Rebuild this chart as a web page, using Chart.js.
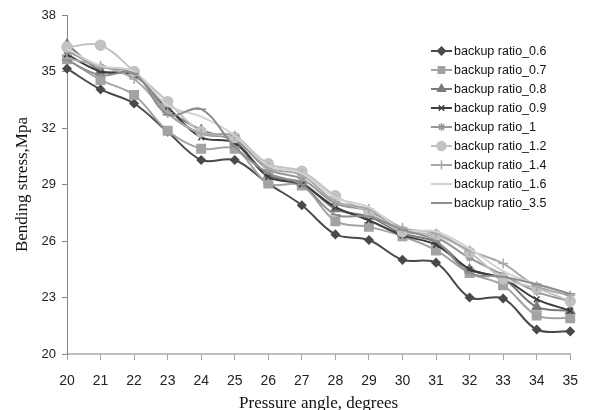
<!DOCTYPE html>
<html>
<head>
<meta charset="utf-8">
<script src="https://cdn.jsdelivr.net/npm/chart.js@4/dist/chart.umd.min.js"></script>
<style>
  html, body { margin: 0; padding: 0; background: #ffffff; }
  #wrap { width: 591px; height: 410px; position: relative; }
</style>
</head>
<body>
<div id="wrap"><canvas id="c" width="591" height="410"></canvas></div>
<script>
// Pressure angle (degrees) on the x axis
const angles = ['20','21','22','23','24','25','26','27','28','29','30','31','32','33','34','35'];

// Bending stress (MPa) for each backup ratio
const ratio06 = [35.15, 34.05, 33.3, 31.8, 30.3, 30.3, 29.05, 27.9, 26.35, 26.05, 25.0, 24.85, 23.0, 22.95, 21.3, 21.2];
const ratio07 = [35.65, 34.55, 33.75, 31.85, 30.9, 30.9, 29.05, 28.95, 27.05, 26.75, 26.25, 25.5, 24.3, 23.65, 22.05, 21.9];
const ratio08 = [36.45, 35.05, 34.85, 33.0, 31.9, 31.3, 29.5, 29.1, 27.7, 27.3, 26.4, 25.95, 24.5, 24.0, 22.5, 22.3];
const ratio09 = [35.9, 35.0, 34.8, 33.1, 31.5, 31.2, 29.4, 29.0, 27.8, 27.1, 26.3, 25.8, 24.5, 24.0, 22.9, 22.3];
const ratio10 = [36.1, 35.25, 34.9, 32.8, 31.7, 31.4, 29.8, 29.3, 28.0, 27.6, 26.6, 26.2, 25.1, 24.2, 23.3, 22.8];
const ratio12 = [36.3, 36.4, 35.0, 33.4, 31.8, 31.5, 30.1, 29.7, 28.4, 27.5, 26.5, 26.3, 25.4, 24.0, 23.5, 22.8];
const ratio14 = [35.7, 35.3, 34.6, 32.8, 31.7, 31.6, 29.9, 29.5, 28.1, 27.7, 26.7, 26.4, 25.5, 24.8, 23.6, 23.1];
const ratio16 = [36.2, 35.3, 35.0, 33.2, 32.6, 31.6, 30.0, 29.6, 28.3, 27.8, 26.6, 26.5, 25.6, 24.4, 23.7, 23.2];
const ratio35 = [35.6, 34.8, 34.9, 32.7, 33.0, 31.0, 29.6, 29.0, 27.4, 27.3, 26.6, 26.0, 24.3, 24.1, 23.7, 23.2];

const stressTicks = [20, 23, 26, 29, 32, 35, 38];

const seriesNames = ['backup ratio_0.6','backup ratio_0.7','backup ratio_0.8','backup ratio_0.9','backup ratio_1',
                     'backup ratio_1.2','backup ratio_1.4','backup ratio_1.6','backup ratio_3.5'];
const seriesData = [ratio06, ratio07, ratio08, ratio09, ratio10, ratio12, ratio14, ratio16, ratio35];
const seriesColors = ['#4a4a4a','#a3a3a3','#7a7a7a','#3c3c3c','#979797','#c2c2c2','#a8a8a8','#d2d2d2','#8e8e8e'];
const seriesMarkers = ['rectRot','rect','triangle','crossRot','star','circle','cross',false,'line'];
const markerSizes = [4, 6, 5, 4, 4, 5, 5, 0, 5];

const datasets = seriesData.map((d, i) => ({
  label: seriesNames[i],
  data: d,
  borderColor: seriesColors[i],
  backgroundColor: seriesColors[i],
  pointBackgroundColor: seriesColors[i],
  pointBorderColor: seriesColors[i],
  pointStyle: seriesMarkers[i],
  pointRadius: markerSizes[i],
  pointBorderWidth: 1.5,
  borderWidth: 2,
  tension: 0.35,
  fill: false,
  order: seriesData.length - i
}));

// Legend drawn as a column overlapping the upper right of the plot
const sideLegend = {
  id: 'sideLegend',
  afterDraw(chart) {
    const ctx = chart.ctx;
    ctx.save();
    chart.data.datasets.forEach((ds, i) => {
      const y = 51 + i * 19;
      ctx.strokeStyle = ds.borderColor;
      ctx.lineWidth = 2;
      ctx.beginPath();
      ctx.moveTo(431, y);
      ctx.lineTo(452, y);
      ctx.stroke();
      if (ds.pointStyle) {
        ctx.fillStyle = ds.pointBackgroundColor;
        ctx.strokeStyle = ds.pointBorderColor;
        ctx.lineWidth = 1.5;
        Chart.helpers.drawPoint(ctx, {
          pointStyle: ds.pointStyle,
          radius: Math.min(ds.pointRadius, 4.5),
          rotation: 0,
          borderWidth: 1.5
        }, 441.5, y);
      }
      ctx.fillStyle = '#111111';
      ctx.font = '12.5px "Liberation Sans", Arial, sans-serif';
      ctx.textBaseline = 'middle';
      ctx.textAlign = 'left';
      ctx.fillText(ds.label, 454, y + 0.5);
    });
    ctx.restore();
  }
};

new Chart(document.getElementById('c'), {
  type: 'line',
  data: { labels: angles, datasets },
  plugins: [sideLegend],
  options: {
    responsive: false,
    animation: false,
    devicePixelRatio: 1,
    layout: { padding: { left: 0, right: 18, top: 15, bottom: 0 } },
    plugins: { legend: { display: false }, tooltip: { enabled: false } },
    scales: {
      x: {
        type: 'category',
        offset: false,
        border: { display: true, color: '#bdbdbd', width: 2 },
        grid: { display: true, drawOnChartArea: false, drawTicks: true, tickLength: 6, color: '#a0a0a0', tickWidth: 1 },
        ticks: { color: '#222222', font: { family: '"Liberation Sans", Arial, sans-serif', size: 14 }, padding: 13, maxRotation: 0, autoSkip: false },
        title: { display: true, text: 'Pressure angle, degrees', color: '#111111',
                 font: { family: '"Liberation Serif", "Times New Roman", serif', size: 17 }, padding: { top: 0, bottom: -4 } },
        afterFit(scale) { scale.height = 56; }
      },
      y: {
        min: 20, max: 38,
        afterBuildTicks(scale) { scale.ticks = stressTicks.map(v => ({ value: v })); },
        border: { display: true, color: '#868686', width: 1 },
        grid: { display: true, drawOnChartArea: false, drawTicks: true, tickLength: 5, color: '#868686' },
        ticks: { color: '#222222', font: { family: '"Liberation Sans", Arial, sans-serif', size: 13 }, padding: 6 },
        title: { display: true, text: 'Bending stress,Mpa', color: '#111111',
                 font: { family: '"Liberation Serif", "Times New Roman", serif', size: 17 }, padding: { top: 12, bottom: 4 } },
        afterFit(scale) { scale.width = 67; }
      }
    }
  }
});
</script>
</body>
</html>
